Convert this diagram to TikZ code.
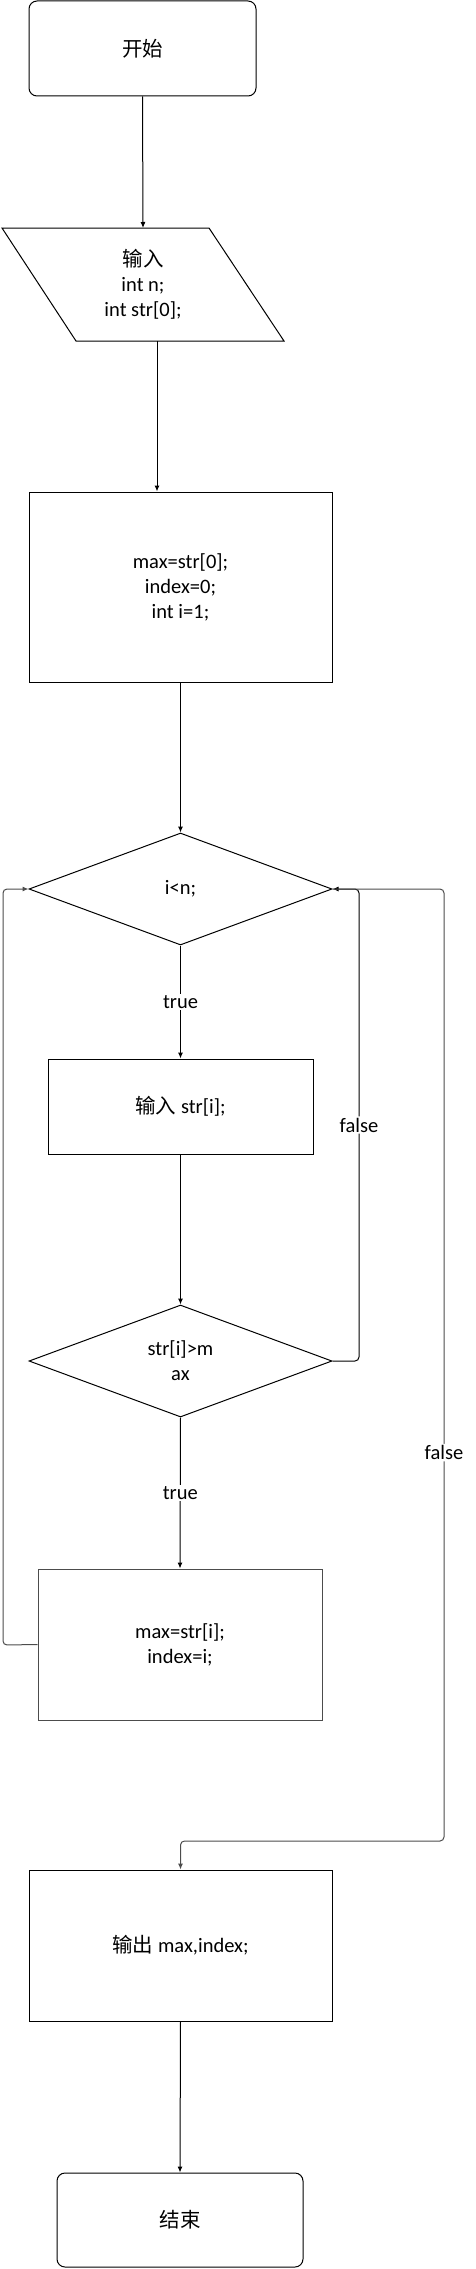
\documentclass[tikz,border=0pt]{standalone}
\usepackage{fontspec}
\setmainfont{Carlito}
\newfontfamily\cjk{Noto Sans CJK SC}
\usetikzlibrary{shapes.geometric,arrows.meta}
\begin{document}
\begin{tikzpicture}[x=1pt,y=-1pt,
  txt/.style={font=\fontsize{20.5}{25}\selectfont, align=center, text=black},
  shp/.style={draw=black, line width=1pt, inner sep=0pt, txt},
  grey/.style={draw=black!70},
  term/.style={shp, rounded corners=8pt},
  boxx/.style={shp, rectangle},
  dia/.style={shp, diamond, minimum width=303pt, minimum height=112pt, aspect=2.7},
  conn/.style={draw=black, line width=1pt},
  arr/.style={conn, -{Latex[length=6pt,width=5pt]}},
  lab/.style={txt, fill=white, inner sep=1.5pt}
]
\useasboundingbox (0,0) rectangle (476,2269);

% nodes
\node[term, minimum width=227pt, minimum height=95pt] (start) at (142.5,48.5) {\cjk 开始};
\node[txt] (in) at (143,284.5) {{\cjk 输入}\\int n;\\int str[0];};
\draw[conn] (2,228) -- (209,228) -- (284,341) -- (76,341) -- cycle;
\coordinate (inTop) at (143,228);
\coordinate (inBot) at (157,341);
\node[boxx, minimum width=303pt, minimum height=190pt] (init) at (180.5,587) {max=str[0];\\index=0;\\int i=1;};
\node[dia] (c1) at (180.5,889) {i<n;};
\node[boxx, minimum width=265pt, minimum height=95pt] (read) at (180.5,1106.5) {{\cjk 输入} str[i];};
\node[dia] (c2) at (180.5,1361) {str[i]>m\\ax};
\node[boxx, grey, minimum width=284pt, minimum height=151pt] (upd) at (180,1644.5) {max=str[i];\\index=i;};
\node[boxx, minimum width=303pt, minimum height=151pt] (out) at (180.5,1945.5) {{\cjk 输出} max,index;};
\node[term, minimum width=246pt, minimum height=94pt] (stop) at (180,2220) {\cjk 结束};

% connectors
\draw[arr] (start.south) -- (inTop);
\draw[arr] (inBot) -- (inBot |- init.north);
\draw[arr] (init.south) -- (c1.north);
\draw[arr] (c1.south) -- node[lab]{true} (read.north);
\draw[arr] (read.south) -- (c2.north);
\draw[arr] (c2.south) -- node[lab]{true} (upd.north);

\coordinate (r1) at (359,1361);
\draw[arr, rounded corners=4pt] (c2.east) -- (r1) |- node[lab, pos=0.25]{false} (c1.east);

\coordinate (o1) at (444,889);
\coordinate (o2) at (444,1841);
\draw[arr, draw=black!70, rounded corners=4pt] (c1.east) -- (o1) -- node[lab, pos=0.592]{false} (o2) -| (out.north);

\coordinate (l1) at (3,1645);
\draw[arr, draw=black!70, rounded corners=4pt] (upd.west) -- (l1) |- (c1.west);

\draw[arr] (out.south) -- (stop.north);
\end{tikzpicture}
\end{document}
